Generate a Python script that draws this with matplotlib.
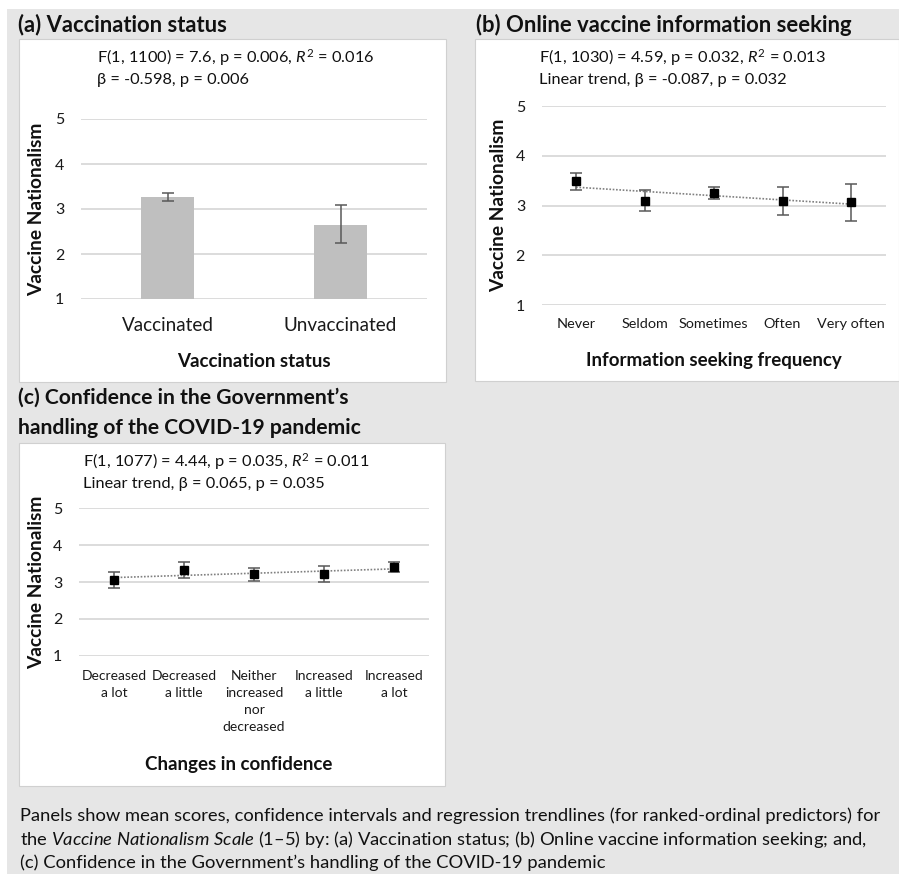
import matplotlib
matplotlib.use("Agg")
import matplotlib.pyplot as plt
from matplotlib.patches import Rectangle
import numpy as np

plt.rcParams['font.family'] = ['Lato', 'DejaVu Sans']
plt.rcParams['mathtext.fontset'] = 'custom'
plt.rcParams['mathtext.rm'] = 'Lato'
plt.rcParams['mathtext.it'] = 'Lato:italic'
plt.rcParams['mathtext.bf'] = 'Lato:bold'

# (a) vaccination status
status_labels = ["Vaccinated", "Unvaccinated"]
status_mean = [3.26, 2.65]
status_lo = [3.17, 2.25]
status_hi = [3.35, 3.08]

# (b) online vaccine information seeking
seek_labels = ["Never", "Seldom", "Sometimes", "Often", "Very often"]
seek_mean = [3.49, 3.10, 3.25, 3.09, 3.07]
seek_lo = [3.32, 2.89, 3.13, 2.81, 2.70]
seek_hi = [3.66, 3.32, 3.38, 3.37, 3.43]

# (c) confidence in the government
conf_labels = ["Decreased\na lot", "Decreased\na little", "Neither\nincreased\nnor\ndecreased",
               "Increased\na little", "Increased\na lot"]
conf_mean = [3.05, 3.32, 3.21, 3.21, 3.40]
conf_lo = [2.85, 3.11, 3.02, 2.99, 3.27]
conf_hi = [3.27, 3.55, 3.39, 3.43, 3.54]

W, H = 899, 874
GRAY_BG = "#e6e6e6"
GRID = "#d9d9d9"
ERR = "#595959"
TXT = "#111111"

fig = plt.figure(figsize=(W / 100, H / 100), dpi=100)
fig.patch.set_facecolor("white")


def box(x0, y0, x1, y1, fc, ec="none", z=-3):
    fig.add_artist(Rectangle((x0 / W, 1 - y1 / H), (x1 - x0) / W, (y1 - y0) / H,
                             transform=fig.transFigure, facecolor=fc, edgecolor=ec,
                             linewidth=0.8, zorder=z))


def ftext(x, y, s, **kw):
    fig.text(x / W, 1 - y / H, s, va="center", color=TXT, **kw)


def make_axes(x0, y0, x1, y1):
    ax = fig.add_axes([x0 / W, 1 - y1 / H, (x1 - x0) / W, (y1 - y0) / H])
    ax.set_facecolor("none")
    ax.set_ylim(1, 5)
    ax.set_yticks([1, 2, 3, 4, 5])
    for s in ax.spines.values():
        s.set_visible(False)
    ax.grid(axis="y", color=GRID, linewidth=1.3)
    ax.set_axisbelow(True)
    ax.tick_params(length=0, labelsize=11.5, colors="#1a1a1a")
    ax.tick_params(axis="y", pad=12)
    ax.set_ylabel("Vaccine Nationalism", fontsize=13.8, fontweight="bold", color=TXT)
    return ax


# background and panel boxes
box(7, 9, 899, 874, GRAY_BG, z=-4)
box(19, 39, 446, 382, "white", "#d0d0d0")
box(475, 39, 899, 381, "white", "#d0d0d0")
box(19, 443, 445, 786, "white", "#d0d0d0")

# panel titles
tsz = 15.8
ftext(18, 25, "(a) Vaccination status", fontsize=tsz, fontweight="bold")
ftext(476, 25, "(b) Online vaccine information seeking", fontsize=tsz, fontweight="bold")
ftext(18, 398, "(c) Confidence in the Government\u2019s", fontsize=tsz - 0.6, fontweight="bold")
ftext(18, 428, "handling of the COVID-19 pandemic", fontsize=tsz - 0.6, fontweight="bold")

# stats text
ssz = 11.8
ftext(97, 58, "F(1, 1100) = 7.6, p = 0.006, $R^2$ = 0.016", fontsize=ssz)
ftext(97, 80, "\u03b2 = -0.598, p = 0.006", fontsize=ssz)
ftext(539, 58, "F(1, 1030) = 4.59, p = 0.032, $R^2$ = 0.013", fontsize=ssz)
ftext(539, 80, "Linear trend, \u03b2 = -0.087, p = 0.032", fontsize=ssz)
ftext(83, 462, "F(1, 1077) = 4.44, p = 0.035, $R^2$ = 0.011", fontsize=ssz)
ftext(83, 484, "Linear trend, \u03b2 = 0.065, p = 0.035", fontsize=ssz)

# (a)
ax = make_axes(81, 119, 427, 299)
x = np.arange(len(status_labels))
mean = np.array(status_mean)
ax.bar(x, mean, width=0.31, color="#bfbfbf", zorder=2)
ax.errorbar(x, mean, yerr=[mean - np.array(status_lo), np.array(status_hi) - mean],
            fmt="none", ecolor=ERR, elinewidth=1.1, capsize=4, capthick=1.1, zorder=3)
ax.set_xlim(-0.5, 1.5)
ax.set_xticks(x)
ax.set_xticklabels(status_labels, fontsize=13.6)
ax.tick_params(axis="x", pad=13)
ax.set_xlabel("Vaccination status", fontsize=13.5, fontweight="bold", color=TXT)
ax.xaxis.set_label_coords(0.5, -0.30)
ax.yaxis.set_label_coords(-0.104, 0.5)


def point_panel(ax, labels, means, lo, hi):
    x = np.arange(len(labels))
    m = np.array(means)
    fit = np.polyfit(x, m, 1)
    ax.plot(x, np.polyval(fit, x), linestyle=(0, (1, 1)), color="#808080", linewidth=1.2, zorder=2)
    ax.errorbar(x, m, yerr=[m - np.array(lo), np.array(hi) - m], fmt="none",
                ecolor=ERR, elinewidth=1.1, capsize=4.5, capthick=1.1, zorder=3)
    ax.plot(x, m, "s", color="black", markersize=6, zorder=4)
    ax.set_xlim(-0.5, len(labels) - 0.5)
    ax.set_xticks(x)


# (b)
ax = make_axes(541.7, 106, 885.7, 305.3)
point_panel(ax, seek_labels, seek_mean, seek_lo, seek_hi)
ax.set_xticklabels(seek_labels, fontsize=10.4)
ax.tick_params(axis="x", pad=9.5)
ax.set_xlabel("Information seeking frequency", fontsize=13.5, fontweight="bold", color=TXT)
ax.xaxis.set_label_coords(0.5, -0.234)
ax.yaxis.set_label_coords(-0.101, 0.5)

# (c)
ax = make_axes(79, 508.3, 429, 655.7)
point_panel(ax, conf_labels, conf_mean, conf_lo, conf_hi)
ax.set_xticklabels(conf_labels, fontsize=10, linespacing=1.5, va="top")
ax.tick_params(axis="x", pad=10)
ax.set_xlabel("Changes in confidence", fontsize=13.5, fontweight="bold", color=TXT)
ax.xaxis.set_label_coords(0.457, -0.68)
ax.yaxis.set_label_coords(-0.097, 0.5)

# caption
cap = 13.2
ftext(20, 816, "Panels show mean scores, confidence intervals and regression trendlines "
      "(for ranked-ordinal predictors) for", fontsize=cap)
ftext(20, 840, "the $\\mathit{Vaccine\\ Nationalism\\ Scale}$ (1\u20135) by: (a) Vaccination status; "
      "(b) Online vaccine information seeking; and,", fontsize=cap)
ftext(20, 863, "(c) Confidence in the Government\u2019s handling of the COVID-19 pandemic", fontsize=cap)

fig.savefig("out.png", dpi=100)
